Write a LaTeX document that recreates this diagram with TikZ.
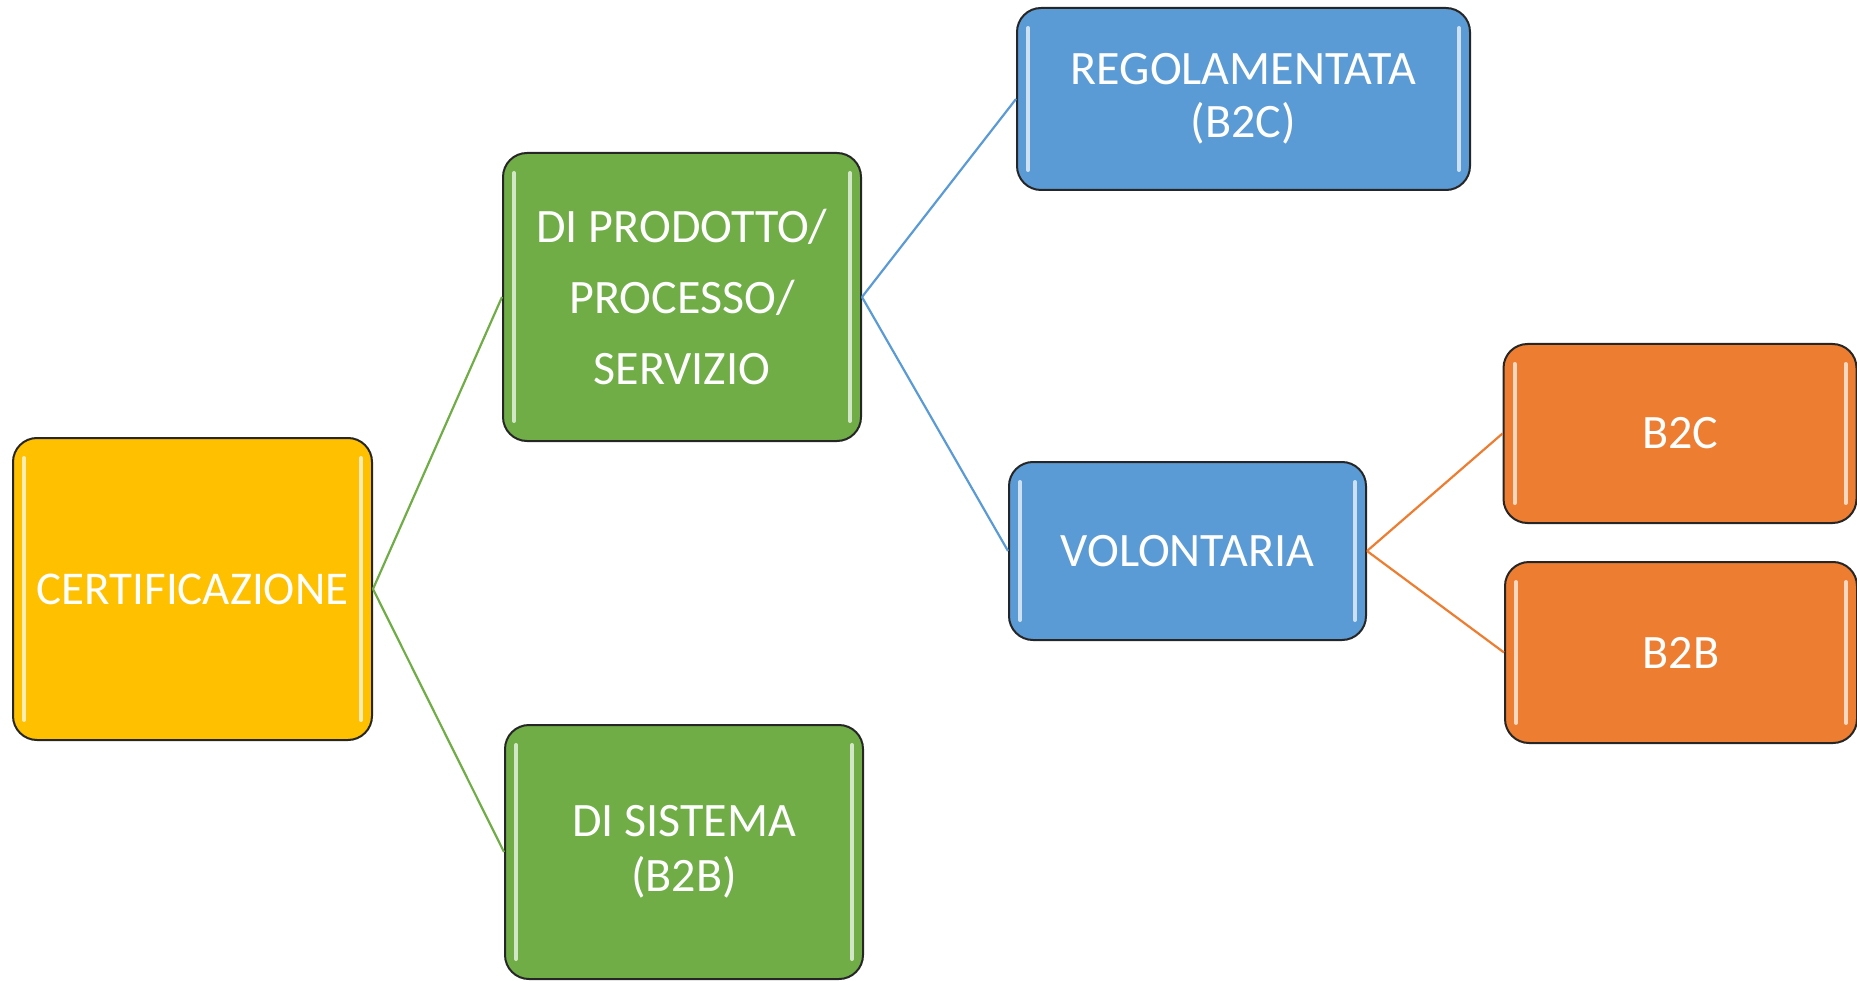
\documentclass[tikz,border=0pt]{standalone}
\usepackage{fontspec}
\setmainfont{Carlito}
\definecolor{certyellow}{HTML}{FFC000}
\definecolor{certgreen}{HTML}{70AD47}
\definecolor{certblue}{HTML}{5B9BD5}
\definecolor{certorange}{HTML}{ED7D31}
\definecolor{certedge}{HTML}{262626}
\begin{document}
\begin{tikzpicture}[x=1pt, y=-1pt,
    box/.style = {draw=certedge, line width=2pt, rounded corners=24pt, text=white,
        align=center, inner sep=0pt, font=\fontsize{48}{53}\selectfont,
        path picture={
            \draw[white, opacity=0.7, line width=4pt, line cap=round]
                ([xshift=11pt, yshift=-20pt]path picture bounding box.north west) --
                ([xshift=11pt, yshift=20pt]path picture bounding box.south west);
            \draw[white, opacity=0.7, line width=4pt, line cap=round]
                ([xshift=-11pt, yshift=-20pt]path picture bounding box.north east) --
                ([xshift=-11pt, yshift=20pt]path picture bounding box.south east);
        }},
    link/.style = {line width=2.2pt}]

    \useasboundingbox (0, 0) rectangle (1857, 981);

    \node[box, fill=certyellow, minimum width=359pt, minimum height=302pt,
          font=\fontsize{47}{50}\selectfont] (cert) at (192.5, 589) {CERTIFICAZIONE};

    \node[box, fill=certgreen, minimum width=358pt, minimum height=288pt,
          font=\fontsize{48}{71}\selectfont] (prod) at (682, 297) {DI PRODOTTO/\\PROCESSO/\\SERVIZIO};
    \node[box, fill=certgreen, minimum width=358pt, minimum height=254pt,
          font=\fontsize{48}{55}\selectfont] (sist) at (684, 852) {DI SISTEMA\\(B2B)};

    \node[box, fill=certblue, minimum width=453pt, minimum height=182pt] (reg) at (1243.5, 99) {REGOLAMENTATA\\(B2C)};
    \node[box, fill=certblue, minimum width=357pt, minimum height=178pt] (vol) at (1187.5, 551) {VOLONTARIA};

    \node[box, fill=certorange, minimum width=353pt, minimum height=179pt] (b2c) at (1680, 433.5) {B2C};
    \node[box, fill=certorange, minimum width=352pt, minimum height=181pt] (b2b) at (1681, 652.5) {B2B};


    \draw[link, certgreen] (cert.east) -- (prod.west);
    \draw[link, certgreen] (cert.east) -- (sist.west);

    \draw[link, certblue] (prod.east) -- (reg.west);
    \draw[link, certblue] (prod.east) -- (vol.west);

    \draw[link, certorange] (vol.east) -- (b2c.west);
    \draw[link, certorange] (vol.east) -- (b2b.west);

\end{tikzpicture}
\end{document}
